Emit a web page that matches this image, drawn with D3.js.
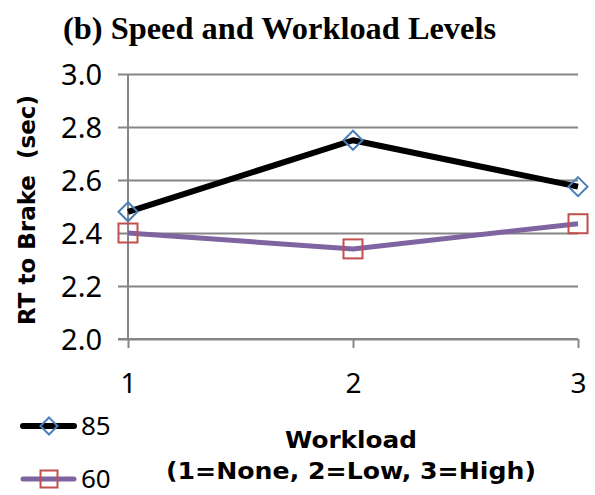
<!DOCTYPE html>
<html><head><meta charset="utf-8">
<script src="https://cdn.jsdelivr.net/npm/d3@7"></script>
<style>body{margin:0;background:#fff}</style>
</head><body>
<svg id="c" width="595" height="495"></svg>
<script>
const categories = [1, 2, 3];
const seriesNames = ["85", "60"];
const values85 = [2.48, 2.75, 2.575];
const values60 = [2.40, 2.34, 2.435];
const yTicks = [2.0, 2.2, 2.4, 2.6, 2.8, 3.0];
const xTickLabels = ["1", "2", "3"];

const svg = d3.select("#c");
const x = d3.scaleLinear().domain([1, 3]).range([128, 578]);
const y = d3.scaleLinear().domain([2.0, 3.0]).range([339, 74]);
const grid = "#868686";
const sans = "DejaVu Sans";
const num = "Noto Sans";

// title
svg.append("text").attr("x", 63).attr("y", 39)
  .attr("font-family", "Liberation Serif").attr("font-weight", "bold").attr("font-size", 32)
  .attr("textLength", 433).attr("lengthAdjust", "spacingAndGlyphs")
  .text("(b) Speed and Workload Levels");

// y gridlines + axis
const yAxis = d3.axisLeft(y).tickValues(yTicks).tickFormat(d3.format(".1f"))
  .tickSize(-(578 - 128)).tickPadding(0);
const gy = svg.append("g").attr("transform", "translate(128,0)").call(yAxis);
gy.select(".domain").remove();
gy.selectAll(".tick line").attr("x1", -10).attr("x2", 450).attr("stroke", grid).attr("stroke-width", 2);
gy.selectAll(".tick text").attr("x", -26).attr("dy", "0.36em").attr("font-family", num).attr("font-size", 29).attr("fill", "#000");
svg.append("line").attr("x1", 128).attr("x2", 128).attr("y1", 74).attr("y2", 339)
  .attr("stroke", grid).attr("stroke-width", 2);

// x axis
const xAxis = d3.axisBottom(x).tickValues(categories).tickFormat((d, i) => xTickLabels[i])
  .tickSize(9).tickPadding(0);
const gx = svg.append("g").attr("transform", "translate(0,339)").call(xAxis);
gx.select(".domain").attr("stroke", grid).attr("stroke-width", 2).attr("d", "M118,0H578");
gx.selectAll(".tick line").attr("stroke", grid).attr("stroke-width", 2);
gx.selectAll(".tick text").attr("y", 54).attr("dy", 0).attr("font-family", num).attr("font-size", 28).attr("fill", "#000");

// axis titles
svg.append("text").attr("transform", "translate(35,210) rotate(-90)")
  .attr("text-anchor", "middle").attr("font-family", sans).attr("font-weight", "bold").attr("font-size", 23)
  .style("white-space", "pre").text("RT to Brake  (sec)");
svg.append("text").attr("x", 351).attr("y", 448).attr("text-anchor", "middle")
  .attr("font-family", sans).attr("font-weight", "bold").attr("font-size", 23)
  .attr("textLength", 132).attr("lengthAdjust", "spacingAndGlyphs").text("Workload");
svg.append("text").attr("x", 351).attr("y", 479).attr("text-anchor", "middle")
  .attr("font-family", sans).attr("font-weight", "bold").attr("font-size", 23)
  .attr("textLength", 370).attr("lengthAdjust", "spacingAndGlyphs").text("(1=None, 2=Low, 3=High)");

const line = d3.line().x((d, i) => x(categories[i])).y(d => y(d));
const series = [
  {name: seriesNames[0], vals: values85, color: "#000000", marker: "diamond", mcolor: "#4a7ebb", w: 6},
  {name: seriesNames[1], vals: values60, color: "#8064a2", marker: "square", mcolor: "#c0504d", w: 5}
];
function marker(g, type, cx, cy, color, s) {
  if (type === "diamond") {
    g.append("path").attr("d", `M${cx},${cy - s}L${cx + s},${cy}L${cx},${cy + s}L${cx - s},${cy}Z`)
      .attr("fill", "none").attr("stroke", color).attr("stroke-width", 2);
  } else {
    g.append("rect").attr("x", cx - s).attr("y", cy - s).attr("width", 2 * s).attr("height", 2 * s)
      .attr("fill", "none").attr("stroke", color).attr("stroke-width", 2);
  }
}
series.slice().reverse().forEach(s => {
  svg.append("path").attr("d", line(s.vals)).attr("fill", "none").attr("stroke", s.color)
    .attr("stroke-width", s.w).attr("stroke-linejoin", "round");
});
series.forEach(s => {
  const g = svg.append("g");
  s.vals.forEach((v, i) => marker(g, s.marker, x(categories[i]), y(v), s.mcolor, 9.5));
});

// legend
const ly = [426, 479];
series.forEach((s, i) => {
  const g = svg.append("g");
  g.append("line").attr("x1", 23).attr("x2", 74).attr("y1", ly[i]).attr("y2", ly[i])
    .attr("stroke", s.color).attr("stroke-width", s.w).attr("stroke-linecap", "round");
  marker(g, s.marker, 49, ly[i], s.mcolor, 8.5);
  g.append("text").attr("x", 81).attr("y", ly[i] + 9)
    .attr("font-family", num).attr("font-size", 26).text(s.name);
});
</script>
</body></html>
